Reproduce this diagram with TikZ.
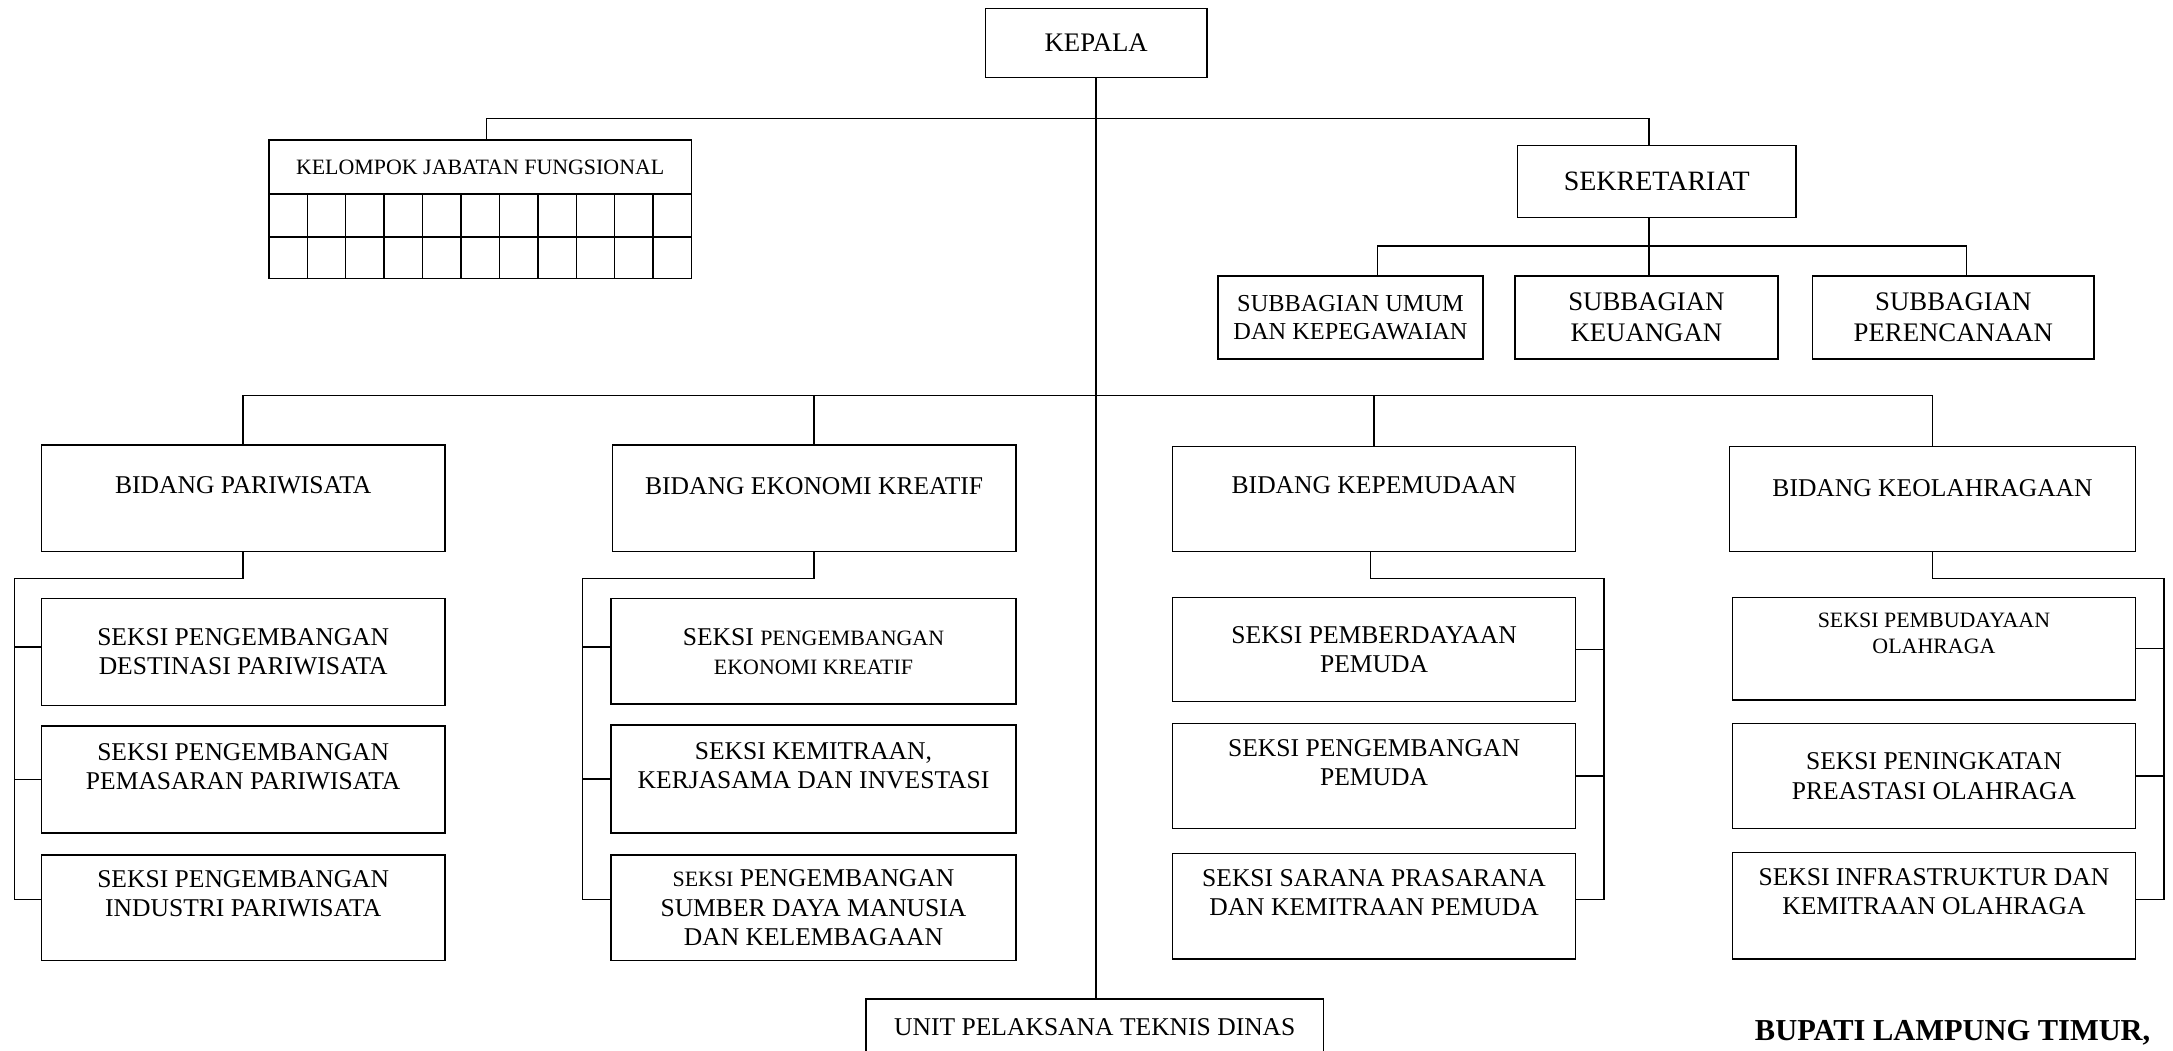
\documentclass[tikz,border=0pt]{standalone}
\usepackage{fontspec}
\setmainfont{Liberation Serif}
\begin{document}
\begin{tikzpicture}[x=0.02cm, y=-0.02cm, line width=0.6pt,
    kotak/.style={draw, rectangle, inner sep=0pt, align=center, font=\fontsize{10.5}{12}\selectfont},
    teks/.style={inner sep=0pt, align=center, font=\fontsize{10.5}{12}\selectfont},
    kecil/.style={inner sep=0pt, align=center, font=\fontsize{9}{11}\selectfont}]

        \clip (0, 0) rectangle (1568, 758);

        \draw (791, 31) node[kotak, minimum width=3.2cm, minimum height=1cm, font=\fontsize{11}{13}\selectfont] (kepala) {KEPALA};
        \draw (346.5, 151) node[kotak, minimum width=6.1cm, minimum height=2cm] (kjf) {};
        \node[kecil] (kjf-t) at (346.5, 120.5) {KELOMPOK JABATAN FUNGSIONAL};
        \draw (1195.5, 131) node[kotak, minimum width=4.02cm, minimum height=1.04cm, font=\fontsize{11.5}{13}\selectfont] (sek) {SEKRETARIAT};
        \draw (974.5, 229) node[kotak, minimum width=3.82cm, minimum height=1.2cm, font=\fontsize{10}{11.5}\selectfont] (sub1) {SUBBAGIAN UMUM\\DAN KEPEGAWAIAN};
        \draw (1188, 229) node[kotak, minimum width=3.8cm, minimum height=1.2cm, font=\fontsize{11}{13}\selectfont] (sub2) {SUBBAGIAN\\KEUANGAN};
        \draw (1409.5, 229) node[kotak, minimum width=4.06cm, minimum height=1.2cm, font=\fontsize{11}{13}\selectfont] (sub3) {SUBBAGIAN\\PERENCANAAN};

        % grid jabatan fungsional
        \draw (194, 140) -- (499, 140);
        \draw (194, 171) -- (499, 171);
        \foreach \i in {1,...,10}
            \draw (194+\i*27.727, 140) -- (194+\i*27.727, 201);

        \draw (175.5, 359.5) node[kotak, minimum width=5.82cm, minimum height=1.54cm] (bp) {};
        \node[teks] (bp-t) at (175.5, 350) {BIDANG PARIWISATA};
        \draw (587.5, 359.5) node[kotak, minimum width=5.82cm, minimum height=1.54cm] (bek) {};
        \node[teks] (bek-t) at (587.5, 351) {BIDANG EKONOMI KREATIF};
        \draw (991.5, 360) node[kotak, minimum width=5.82cm, minimum height=1.52cm] (bkp) {};
        \node[teks] (bkp-t) at (991.5, 350) {BIDANG KEPEMUDAAN};
        \draw (1394.5, 360) node[kotak, minimum width=5.86cm, minimum height=1.52cm] (bko) {};
        \node[teks] (bko-t) at (1394.5, 352) {BIDANG KEOLAHRAGAAN};

        \draw (175.5, 470.5) node[kotak, minimum width=5.82cm, minimum height=1.54cm] (ps1) {SEKSI PENGEMBANGAN\\DESTINASI PARIWISATA};
        \draw (175.5, 562.5) node[kotak, minimum width=5.82cm, minimum height=1.54cm] (ps2) {};
        \node[teks] (ps2-t) at (175.5, 553.5) {SEKSI PENGEMBANGAN\\PEMASARAN PARIWISATA};
        \draw (175.5, 655) node[kotak, minimum width=5.82cm, minimum height=1.52cm] (ps3) {};
        \node[teks] (ps3-t) at (175.5, 645) {SEKSI PENGEMBANGAN\\INDUSTRI PARIWISATA};

        \draw (587, 470) node[kotak, minimum width=5.84cm, minimum height=1.52cm] (es1) {SEKSI {\fontsize{9}{11}\selectfont PENGEMBANGAN}\\{\fontsize{9}{11}\selectfont EKONOMI KREATIF}};
        \draw (587, 562) node[kotak, minimum width=5.84cm, minimum height=1.56cm] (es2) {};
        \node[teks] (es2-t) at (587, 552.5) {SEKSI KEMITRAAN,\\KERJASAMA DAN INVESTASI};
        \draw (587, 655) node[kotak, minimum width=5.84cm, minimum height=1.52cm] (es3) {{\fontsize{9}{11}\selectfont SEKSI} PENGEMBANGAN\\SUMBER DAYA MANUSIA\\DAN KELEMBAGAAN};

        \draw (991.5, 468.5) node[kotak, minimum width=5.82cm, minimum height=1.5cm] (ks1) {SEKSI PEMBERDAYAAN\\PEMUDA};
        \draw (991.5, 560) node[kotak, minimum width=5.82cm, minimum height=1.52cm] (ks2) {};
        \node[teks] (ks2-t) at (991.5, 550.5) {SEKSI PENGEMBANGAN\\PEMUDA};
        \draw (991.5, 654) node[kotak, minimum width=5.82cm, minimum height=1.52cm] (ks3) {};
        \node[teks] (ks3-t) at (991.5, 644) {SEKSI SARANA PRASARANA\\DAN KEMITRAAN PEMUDA};

        \draw (1395.5, 468) node[kotak, minimum width=5.82cm, minimum height=1.48cm] (os1) {};
        \node[kecil] (os1-t) at (1395.5, 457) {SEKSI PEMBUDAYAAN\\OLAHRAGA};
        \draw (1395.5, 560) node[kotak, minimum width=5.82cm, minimum height=1.52cm] (os2) {SEKSI PENINGKATAN\\PREASTASI OLAHRAGA};
        \draw (1395.5, 653.5) node[kotak, minimum width=5.82cm, minimum height=1.54cm] (os3) {};
        \node[teks] (os3-t) at (1395.5, 643.5) {SEKSI INFRASTRUKTUR DAN\\KEMITRAAN OLAHRAGA};

        \draw (790, 751) node[kotak, minimum width=6.6cm, minimum height=1.2cm] (upt) {};
        \node[teks] (upt-t) at (790, 741) {UNIT PELAKSANA TEKNIS DINAS};
        \node[inner sep=0pt, font=\fontsize{12.5}{14}\selectfont\bfseries] (bupati) at (1409, 745) {BUPATI LAMPUNG TIMUR,};

        % garis
        \draw (kepala.south) -- (kepala.south |- upt.north);
        \draw ([xshift=0.09cm]kjf.north) -- ++(0, -15) -| ([xshift=-0.11cm]sek.north);
        \draw ([xshift=-0.11cm]sek.south) -- ([xshift=-0.11cm]sek.south |- sub2.north);
        \draw ([xshift=0.39cm]sub1.north) -- ++(0, -21) -| ([xshift=0.19cm]sub3.north);
        \draw (bp.north) -- ++(0, -35) -| (bko.north);
        \draw (bek.north) -- ++(0, -35);
        \draw (bkp.north) -- ++(0, -36);

        \draw (bp.south) -- ++(0, 19) -| ([yshift=0.12cm, xshift=-0.38cm]ps3.west) -- ([yshift=0.12cm]ps3.west);
        \draw ([yshift=0.07cm]ps1.west) -- ++(-19, 0);
        \draw (ps2.west) -- ++(-19, 0);
        \draw (bek.south) -- ++(0, 19) -| ([yshift=0.12cm, xshift=-0.4cm]es3.west) -- ([yshift=0.12cm]es3.west);
        \draw ([yshift=0.06cm]es1.west) -- ++(-20, 0);
        \draw (es2.west) -- ++(-20, 0);
        \draw ([xshift=-0.05cm]bkp.south) -- ++(0, 19) -| ([yshift=0.1cm, xshift=0.4cm]ks3.east) -- ([yshift=0.1cm]ks3.east);
        \draw (ks1.east) -- ++(20, 0);
        \draw (ks2.east) -- ++(20, 0);
        \draw (bko.south) -- ++(0, 19) -| ([yshift=0.09cm, xshift=0.4cm]os3.east) -- ([yshift=0.09cm]os3.east);
        \draw (os1.east) -- ++(20, 0);
        \draw (os2.east) -- ++(20, 0);

\end{tikzpicture}
\end{document}
